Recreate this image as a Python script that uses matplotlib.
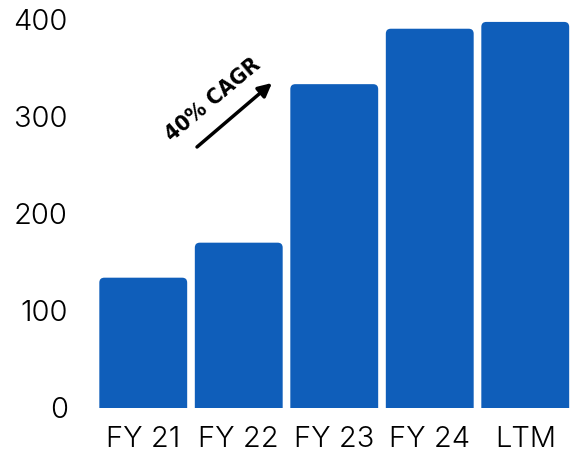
import matplotlib
matplotlib.use("Agg")
import matplotlib.pyplot as plt
from matplotlib.patches import FancyBboxPatch

categories = ["FY 21", "FY 22", "FY 23", "FY 24", "LTM"]
values = [134, 170, 333, 390, 397]
yticks = [0, 100, 200, 300, 400]

bar_color = "#0f5eba"

fig = plt.figure(figsize=(5.78, 4.55), dpi=100)
ax = fig.add_axes([95.5/578, (455-408)/455, 477.5/578, 389/455])
ax.set_xlim(-0.5, 4.5)
ax.set_ylim(0, 400)

bars = ax.bar(range(len(categories)), values, width=0.92, color=bar_color)
x_unit = 477.5 / 5.0
y_unit = 389 / 400.0
r_px = 5
for b in bars:
    x, w, h = b.get_x(), b.get_width(), b.get_height()
    b.set_visible(False)
    p = FancyBboxPatch((x, -20), w, h + 20,
                       boxstyle=f"round,pad=0,rounding_size={r_px/x_unit}",
                       mutation_aspect=x_unit / y_unit,
                       facecolor=bar_color, edgecolor="none", clip_on=True)
    ax.add_patch(p)

ax.set_xticks(range(len(categories)))
ax.set_xticklabels(categories)
ax.set_yticks(yticks)
for s in ax.spines.values():
    s.set_visible(False)
ax.tick_params(length=0, labelsize=21, colors="black")
ax.tick_params(axis="x", pad=13)
ax.tick_params(axis="y", pad=20)
for lab in ax.get_xticklabels() + ax.get_yticklabels():
    lab.set_family("Inter")
    lab.set_fontweight(300)

# CAGR arrow + label
ax.annotate("", xy=(0.3696, 0.8355), xytext=(0.2126, 0.671),
            xycoords="axes fraction", textcoords="axes fraction",
            arrowprops=dict(arrowstyle="-|>", color="black", lw=2.5,
                            mutation_scale=20, shrinkA=0, shrinkB=0))
ax.text(0.246, 0.793, "40% CAGR", transform=ax.transAxes, rotation=40,
        ha="center", va="center", fontsize=16, fontweight="bold",
        fontstretch="condensed", family="DejaVu Sans", color="black")

fig.savefig("out.png", dpi=100)
